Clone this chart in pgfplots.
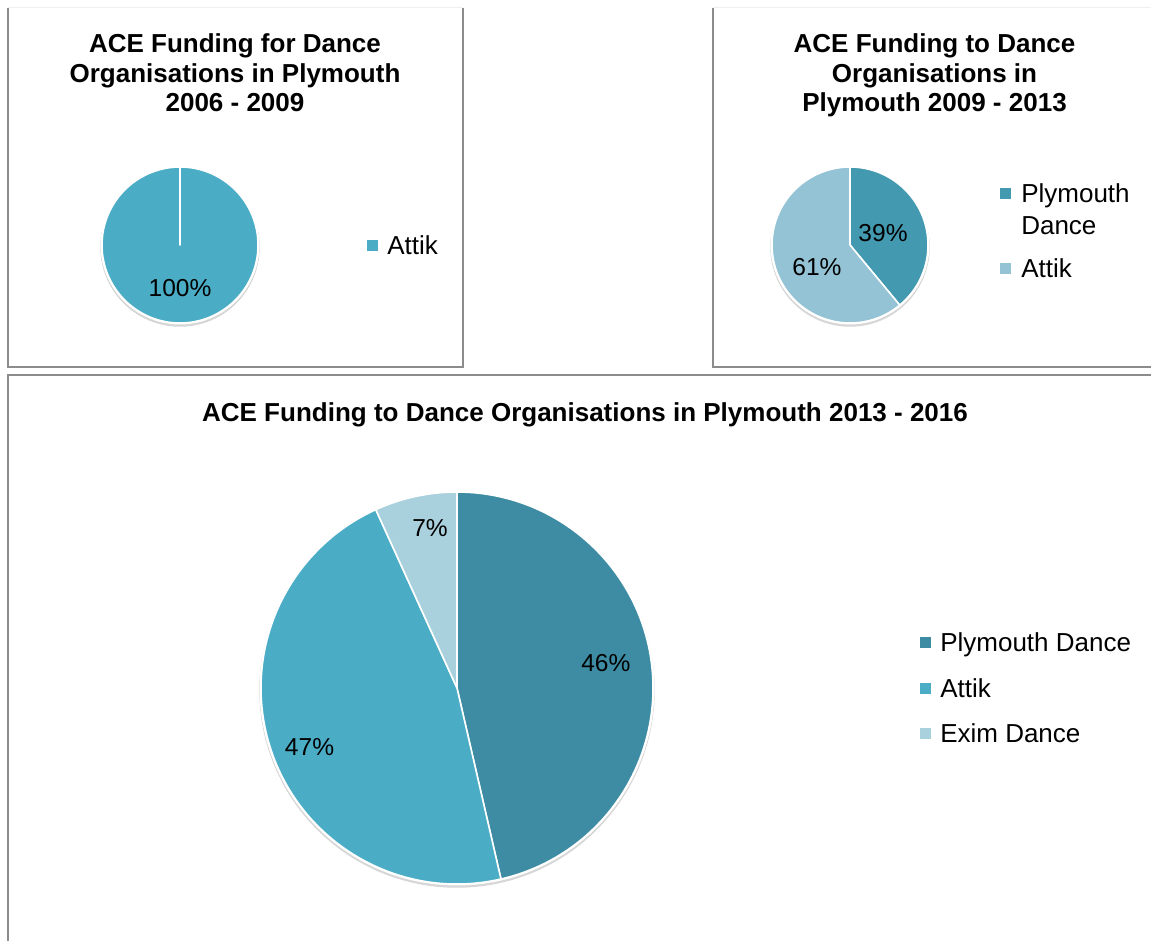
\documentclass[border=0pt]{standalone}
\usepackage{pgfplots}
\pgfplotsset{compat=1.18}
\usepackage{pgfplotstable}
\usepackage{fontspec}
\setmainfont{Liberation Sans}

\definecolor{pdA}{HTML}{4399B0}
\definecolor{atA}{HTML}{93C3D4}
\definecolor{pdB}{HTML}{3D8CA3}
\definecolor{atB}{HTML}{4BACC6}
\definecolor{exB}{HTML}{A9D0DD}
\definecolor{frame}{HTML}{8C8C8C}

% value = share in %, loff = label angle offset (deg), lr = label radius (fraction of radius)
\pgfplotstableread{
name value color loff lr
Attik 100 atB 0 0.55
}\pieone
\pgfplotstableread{
name value color loff lr
PlymouthDance 39 pdA 0 0.45
Attik 61 atA 14 0.51
}\pietwo
\pgfplotstableread{
name value color loff lr
PlymouthDance 46.4 pdB 3 0.77
Attik 46.8 atB 3 0.81
EximDance 6.8 exB -2.7 0.83
}\piethree

\newcommand{\titlefont}{\bfseries\fontsize{19.5pt}{22pt}\selectfont}
\newcommand{\legfont}{\fontsize{19.5pt}{23pt}\selectfont}
\newcommand{\labfont}{\fontsize{18.4pt}{22pt}\selectfont}

% #1 table, #2 radius
\newcommand{\drawpie}[2]{%
  \pgfplotsextra{%
    \fill[black!16] (axis cs:0,0) ++(0pt,-1.5pt) circle[radius=#2+1.3pt];
    \fill[white] (axis cs:0,0) circle[radius=#2+1.1pt];
    \pgfplotstablegetrowsof{#1}%
    \pgfmathtruncatemacro\pierows{\pgfplotsretval-1}%
    \def\piecur{90}%
    \pgfplotsforeachungrouped \pieidx in {0,...,\pierows}{%
      \pgfplotstablegetelem{\pieidx}{value}\of{#1}\edef\pieval{\pgfplotsretval}%
      \pgfplotstablegetelem{\pieidx}{color}\of{#1}\edef\piecol{\pgfplotsretval}%
      \pgfmathsetmacro\pieend{\piecur-3.6*\pieval}%
      \fill[\piecol, draw=white, line width=1.2pt, line join=round] (axis cs:0,0) -- ++(\piecur:#2) arc[start angle=\piecur, end angle=\pieend, radius=#2] -- cycle;
      \global\let\piecur\pieend
    }%
    \def\piecur{90}%
    \pgfplotsforeachungrouped \pieidx in {0,...,\pierows}{%
      \pgfplotstablegetelem{\pieidx}{value}\of{#1}\edef\pieval{\pgfplotsretval}%
      \pgfplotstablegetelem{\pieidx}{loff}\of{#1}\edef\pieloff{\pgfplotsretval}%
      \pgfplotstablegetelem{\pieidx}{lr}\of{#1}\edef\pielr{\pgfplotsretval}%
      \pgfmathsetmacro\pieend{\piecur-3.6*\pieval}%
      \pgfmathsetmacro\piemid{(\piecur+\pieend)/2+\pieloff}%
      \pgfmathsetlengthmacro\piedist{\pielr*#2}%
      \path (axis cs:0,0) ++(\piemid:\piedist) node[font=\labfont, inner sep=0pt] {\pgfmathprintnumber[fixed,precision=0,assume math mode=true]{\pieval}\%};
      \global\let\piecur\pieend
    }%
  }%
}

\begin{document}
\begin{tikzpicture}
\begin{scope}[x=0.75pt, y=-0.75pt]
  \path[use as bounding box] (0,0) rectangle (1151,941);
  % frames
  \draw[black!6, line width=0.75pt] (8,8) -- (463,8);
  \draw[black!6, line width=0.75pt] (713,8) -- (1151,8);
  \draw[frame, line width=1.5pt] (8,8) -- (8,367) -- (463,367) -- (463,8);
  \draw[frame, line width=1.5pt] (713,8) -- (713,367) -- (1151,367);
  \draw[frame, line width=1.5pt] (8,941) -- (8,374.5) -- (1151,374.5);
  % centres
  \coordinate (c1) at (180,245);
  \coordinate (c2) at (850,245);
  \coordinate (c3) at (457,688);
  % titles
  \node[font=\titlefont, anchor=base, inner sep=0pt] at (235,53) {ACE Funding for Dance};
  \node[font=\titlefont, anchor=base, inner sep=0pt] at (235,82.3) {Organisations in Plymouth};
  \node[font=\titlefont, anchor=base, inner sep=0pt] at (235,111.6) {2006 - 2009};
  \node[font=\titlefont, anchor=base, inner sep=0pt] at (934.5,53) {ACE Funding to Dance};
  \node[font=\titlefont, anchor=base, inner sep=0pt] at (934.5,82.3) {Organisations in};
  \node[font=\titlefont, anchor=base, inner sep=0pt] at (934.5,111.6) {Plymouth 2009 - 2013};
  \node[font=\titlefont, anchor=base, inner sep=0pt] at (585,421) {ACE Funding to Dance Organisations in Plymouth 2013 - 2016};
  % legends
  \fill[atB] (367,240) rectangle (378,251);
  \node[font=\legfont, anchor=base west, inner sep=0pt] at (387,254) {Attik};
  \fill[pdA] (1000,188) rectangle (1011,199);
  \node[font=\legfont, anchor=base west, inner sep=0pt] at (1021,202.5) {Plymouth};
  \node[font=\legfont, anchor=base west, inner sep=0pt] at (1021,234.5) {Dance};
  \fill[atA] (1000,263) rectangle (1011,274);
  \node[font=\legfont, anchor=base west, inner sep=0pt] at (1021,277) {Attik};
  \fill[pdB] (919.5,636.5) rectangle (930.5,647.5);
  \node[font=\legfont, anchor=base west, inner sep=0pt] at (940,651) {Plymouth Dance};
  \fill[atB] (919.5,682.5) rectangle (930.5,693.5);
  \node[font=\legfont, anchor=base west, inner sep=0pt] at (940,697) {Attik};
  \fill[exB] (919.5,727.5) rectangle (930.5,738.5);
  \node[font=\legfont, anchor=base west, inner sep=0pt] at (940,742) {Exim Dance};
\end{scope}

\begin{axis}[at={(c1)}, anchor=origin, width=117pt, height=117pt, scale only axis,
  hide axis, xmin=-1, xmax=1, ymin=-1, ymax=1, clip=false]
  \drawpie{\pieone}{58.5pt}
\end{axis}
\begin{axis}[at={(c2)}, anchor=origin, width=117pt, height=117pt, scale only axis,
  hide axis, xmin=-1, xmax=1, ymin=-1, ymax=1, clip=false]
  \drawpie{\pietwo}{58.5pt}
\end{axis}
\begin{axis}[at={(c3)}, anchor=origin, width=294pt, height=294pt, scale only axis,
  hide axis, xmin=-1, xmax=1, ymin=-1, ymax=1, clip=false]
  \drawpie{\piethree}{147pt}
\end{axis}
\end{tikzpicture}
\end{document}
